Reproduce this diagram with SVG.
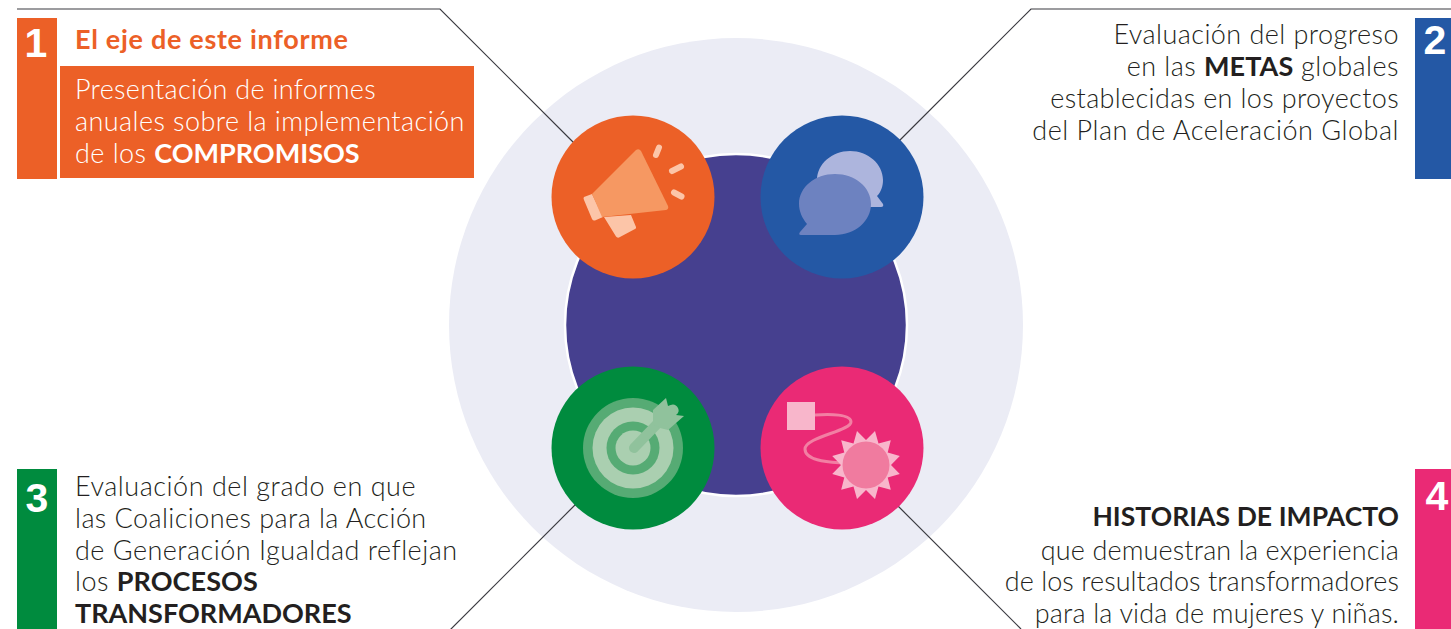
<svg xmlns="http://www.w3.org/2000/svg" width="1451" height="629" viewBox="0 0 1451 629">
<style>
text{font-family:"Lato","Liberation Sans",sans-serif;font-size:27px;fill:#231f20;letter-spacing:.45px}
.l{font-weight:300}
.b{font-weight:700}
.n{font-family:"Liberation Sans",sans-serif;font-size:41px;font-weight:700;fill:#fff;text-anchor:middle;letter-spacing:0}
.e{text-anchor:end}
.s{font-size:26.500px}
.c{fill:none;stroke:#3a3a40;stroke-width:1.2}
.d{stroke:#fcc5a8;stroke-width:6;stroke-linecap:round;fill:none}
</style>
<rect width="1451" height="629" fill="#fff"/>
<g id="background">
<circle cx="736" cy="325" r="287" fill="#ebecf5"/>
<circle cx="736" cy="325" r="171" fill="#46408f" stroke="#fff" stroke-width="2.5"/>
</g>
<g id="connectors">
<path class="c" d="M17 9H440L575 144"/>
<path class="c" d="M1451 9H1031L899 141"/>
<path class="c" d="M576 504L450 630"/>
<path class="c" d="M898 506L1021 629"/>
</g>
<g id="node-1">
<rect x="17" y="18" width="40" height="161" fill="#ec6027"/>
<rect x="60" y="66" width="414" height="112" fill="#ec6027"/>
<text class="n" x="36" y="57">1</text>
<text x="75" y="49" class="b" style="fill:#ec6027;letter-spacing:.7px">El eje de este informe</text>
<text x="75" y="99" class="l" style="fill:#fff;letter-spacing:.28px">Presentación de informes</text>
<text x="75" y="131" class="l" style="fill:#fff;letter-spacing:.42px">anuales sobre la implementación</text>
<text x="75" y="163" class="l" style="fill:#fff">de los <tspan class="b" style="fill:#fff;letter-spacing:0">COMPROMISOS</tspan></text>
</g>
<g id="node-2">
<rect x="1415" y="18" width="36" height="161" fill="#2458a5"/>
<text class="n" x="1435" y="54">2</text>
<text x="1399" y="44" class="l e">Evaluación del progreso</text>
<text x="1399" y="76" class="l e" style="letter-spacing:.45px">en las <tspan class="b" style="letter-spacing:.1px">METAS</tspan> globales</text>
<text x="1399" y="108" class="l e" style="letter-spacing:.35px">establecidas en los proyectos</text>
<text x="1399" y="140" class="l e" style="letter-spacing:.52px">del Plan de Aceleración Global</text>
</g>
<g id="node-3">
<rect x="17" y="469" width="40" height="160" fill="#008b3e"/>
<text class="n" x="37" y="512">3</text>
<text x="75" y="496" class="l" style="letter-spacing:.53px">Evaluación del grado en que</text>
<text x="75" y="528" class="l" style="letter-spacing:.42px">las Coaliciones para la Acción</text>
<text x="75" y="560" class="l" style="letter-spacing:.48px">de Generación Igualdad reflejan</text>
<text x="75" y="591" class="l">los <tspan class="b" style="letter-spacing:.1px">PROCESOS</tspan></text>
<text x="75" y="623" class="b" style="letter-spacing:0">TRANSFORMADORES</text>
</g>
<g id="node-4">
<rect x="1415" y="469" width="36" height="160" fill="#ea2a75"/>
<text class="n" x="1437" y="510">4</text>
<text x="1399" y="526" class="b e s" style="letter-spacing:.05px">HISTORIAS DE IMPACTO</text>
<text x="1399" y="560" class="l e" style="letter-spacing:.14px">que demuestran la experiencia</text>
<text x="1399" y="591" class="l e" style="letter-spacing:.05px">de los resultados transformadores</text>
<text x="1399" y="623" class="l e" style="letter-spacing:.17px">para la vida de mujeres y niñas.</text>
</g>
<g id="icon-orange">
<circle cx="633" cy="197" r="81.500" fill="#ec6027"/>
<path d="M604 217L631 215L636 227Q636.500 228.500 635 229L619 237.500Q617 238 616 236.500Z" fill="#fcc5a8"/>
<path d="M584 197L592 194L603 217L595 220.500Q593 221 592 219L584 200Q583 198 584 197Z" fill="#fcc5a8"/>
<path d="M592 194L636 150Q639 148 641 151L668 206Q669 209 666 210L602 217Z" fill="#f69862"/>
<path class="d" d="M659 147.500L656 155"/>
<path class="d" d="M672 171L681 166.500"/>
<path class="d" d="M674 192.500L681.500 196.500"/>
</g>
<g id="icon-blue">
<circle cx="842" cy="197" r="81.500" fill="#2458a5"/>
<path d="M850 151C868 151 883 164 883 180C883 186 881 192 877 196L883 204Q884 207 881 207H850C832 207 817 195 817 180C817 164 832 151 850 151Z" fill="#adb5dd"/>
<path d="M835 174C855 174 871 187 871 204C871 221 855 235 835 235H801Q798 235 800 232L807 224C802 218 799 211 799 204C799 187 815 174 835 174Z" fill="#6d82c0"/>
</g>
<g id="icon-green">
<circle cx="633" cy="448" r="81.500" fill="#008b3e"/>
<circle cx="633" cy="448" r="50" fill="#56ab74"/>
<circle cx="633" cy="448" r="40.500" fill="#aacfb0"/>
<circle cx="633" cy="448" r="26.500" fill="#56ab74"/>
<circle cx="633" cy="448" r="17.500" fill="#aacfb0"/>
<path d="M634 448L660 421" stroke="#90c29c" stroke-width="10" stroke-linecap="round" fill="none"/>
<path d="M653 410L666 398L668 406Q675 402 678 408Q680 412 676 415L684 416L668 430L660 428L653 424Z" fill="#90c29c"/>
</g>
<g id="icon-pink">
<circle cx="842" cy="448" r="81.500" fill="#ea2a75"/>
<rect x="787" y="402" width="28" height="28" fill="#f8b6cb"/>
<path d="M815 415C830 414 851 414 851 422C851 431 805 437 805 449C805 461 830 462 842 463" fill="none" stroke="#f27fa3" stroke-width="3"/>
<path d="M866 440L875 431L878.500 443.400L890.800 440.300L887.700 452.500L899.800 456L891 465L899.800 474L887.700 477.500L890.800 489.700L878.500 486.600L875 499L866 490L857 499L853.500 486.600L841.200 489.700L844.300 477.500L832.200 474L841 465L832.200 456L844.300 452.500L841.200 440.300L853.500 443.400L857 431Z" fill="#f8b6cb"/>
<circle cx="866" cy="465" r="23.500" fill="#f07b9f"/>
</g>
</svg>
